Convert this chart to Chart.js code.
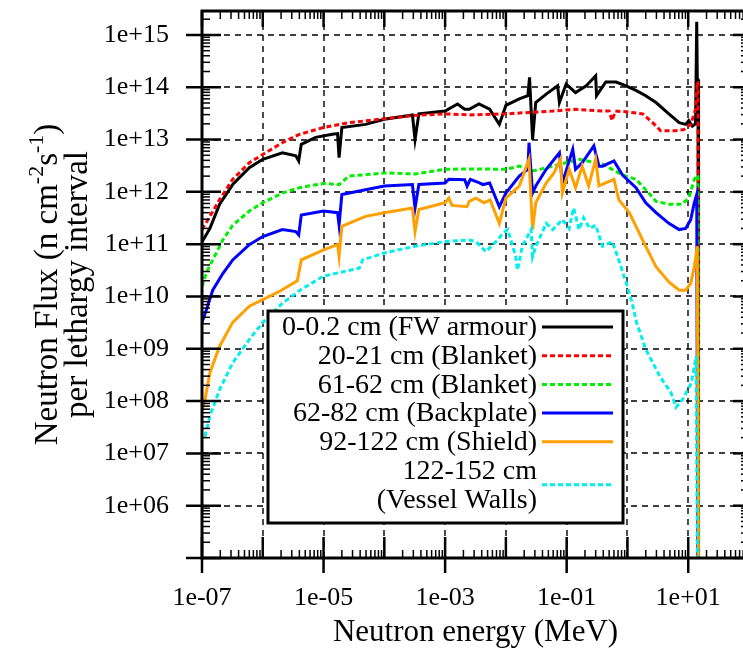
<!DOCTYPE html>
<html>
<head>
<meta charset="utf-8">
<script src="https://cdn.jsdelivr.net/npm/chart.js@4/dist/chart.umd.min.js"></script>
<style>
  html, body { margin: 0; padding: 0; background: #fff; overflow: hidden; }
  #wrap { width: 760px; height: 652px; }
</style>
</head>
<body>
<div id="wrap"><canvas id="fluxChart" width="760" height="652"></canvas></div>
<script>
// neutron energy (MeV) and flux per lethargy for each radial zone
const fwArmourEnergy = [1e-7, 1.35e-7, 1.95e-7, 3.2e-7, 6e-7, 1e-6, 2.1e-6, 3.5e-6, 3.9e-6, 4.3e-6, 7.4e-6, 1.4e-5, 1.7e-5, 1.8e-5, 2.0e-5, 4.9e-5, 1e-4, 2.9e-4, 3.2e-4, 3.7e-4, 1e-3, 1.6e-3, 2.1e-3, 2.5e-3, 3.6e-3, 5.4e-3, 7.8e-3, 1e-2, 1.66e-2, 2.3e-2, 2.45e-2, 2.75e-2, 3.1e-2, 4.6e-2, 7.1e-2, 7.6e-2, 9.8e-2, 0.14, 0.21, 0.3, 0.31, 0.44, 0.65, 0.93, 1.38, 2.0, 2.95, 4.8, 7.1, 9.1, 10.2, 11.7, 13.2, 13.8, 14.1, 14.5, 14.8];
const fwArmourFlux = [1.1e11, 2.0e11, 5.8e11, 1.38e12, 2.9e12, 4.2e12, 5.6e12, 4.9e12, 3.9e12, 8.1e12, 1.1e13, 1.26e13, 1.3e13, 4.5e12, 1.7e13, 1.95e13, 2.45e13, 2.95e13, 1.0e13, 3.1e13, 3.5e13, 4.8e13, 3.8e13, 3.8e13, 4.8e13, 3.8e13, 1.95e13, 4.5e13, 6.0e13, 6.9e13, 1.55e14, 1.0e13, 5.1e13, 7.4e13, 1.07e14, 5.1e13, 1.15e14, 7.9e13, 1.07e14, 1.66e14, 6.9e13, 1.26e14, 1.26e14, 1.07e14, 8.7e13, 6.9e13, 5.1e13, 3.1e13, 2.1e13, 1.95e13, 2.3e13, 1.8e13, 2.0e13, 1.78e15, 1.48e14, 1.4e14, 1e3];

const blanket20Energy = [1e-7, 1.35e-7, 1.95e-7, 3.2e-7, 6e-7, 1e-6, 2.1e-6, 4e-6, 1e-5, 2.6e-5, 1e-4, 3.2e-4, 1e-3, 2.5e-3, 1e-2, 2.4e-2, 5.9e-2, 0.14, 0.39, 0.5, 0.56, 0.63, 0.93, 1.78, 2.6, 3.5, 6.2, 8.5, 11, 13.2, 14.1, 14.5, 14.8];
const blanket20Flux = [1.9e11, 3.4e11, 7.1e11, 1.74e12, 3.6e12, 5.2e12, 8.7e12, 1.26e13, 1.7e13, 2.1e13, 2.5e13, 2.9e13, 3.1e13, 2.95e13, 3.1e13, 3.3e13, 3.5e13, 3.8e13, 3.5e13, 3.5e13, 2.3e13, 3.5e13, 3.4e13, 3.1e13, 2.1e13, 1.48e13, 1.48e13, 1.55e13, 1.95e13, 3.8e13, 1.29e14, 1.2e14, 1e3];

const blanket61Energy = [1e-7, 1.2e-7, 1.5e-7, 2.2e-7, 3.2e-7, 6e-7, 1e-6, 2.1e-6, 4e-6, 1e-5, 1.8e-5, 2.6e-5, 1e-4, 3.2e-4, 1e-3, 2.5e-3, 1e-2, 1.66e-2, 2.75e-2, 5.9e-2, 0.16, 0.39, 0.83, 1.38, 2.0, 2.95, 4.8, 7.9, 10.2, 12.6, 14.1, 14.5, 14.8];
const blanket61Flux = [1.55e10, 3.0e10, 5.0e10, 1.2e11, 2.3e11, 4.3e11, 6.2e11, 9.5e11, 1.2e12, 1.45e12, 1.38e12, 2.0e12, 2.3e12, 2.2e12, 2.7e12, 2.75e12, 2.7e12, 3.1e12, 2.5e12, 3.1e12, 4.2e12, 3.4e12, 2.1e12, 1.74e12, 1.1e12, 6.6e11, 5.8e11, 5.8e11, 7.6e11, 1.74e12, 2.1e12, 2.0e12, 1e3];

const backplateEnergy = [1e-7, 1.2e-7, 1.5e-7, 2.2e-7, 3.2e-7, 6e-7, 1e-6, 2.1e-6, 3.5e-6, 3.9e-6, 4.3e-6, 1e-5, 1.7e-5, 1.8e-5, 2.0e-5, 4.9e-5, 1e-4, 2.9e-4, 3.2e-4, 3.7e-4, 1e-3, 1.15e-3, 2.1e-3, 2.3e-3, 2.6e-3, 3.6e-3, 4.2e-3, 5.4e-3, 7.8e-3, 1e-2, 1.66e-2, 2.3e-2, 2.4e-2, 2.75e-2, 3.1e-2, 4.6e-2, 7.6e-2, 8.5e-2, 0.126, 0.14, 0.18, 0.28, 0.34, 0.39, 0.6, 0.83, 1.38, 2.0, 2.95, 4.8, 7.1, 9.1, 11, 12.6, 13.8, 14.5];
const backplateFlux = [3.2e9, 5.9e9, 1.32e10, 2.75e10, 5.0e10, 9.8e10, 1.4e11, 1.9e11, 1.74e11, 1.5e11, 3.6e11, 4.3e11, 4.0e11, 2.3e11, 8.9e11, 1.1e12, 1.29e12, 1.38e12, 4.9e11, 1.38e12, 1.48e12, 1.74e12, 1.7e12, 1.29e12, 1.74e12, 1.5e12, 1.38e12, 1.48e12, 5.2e11, 9.5e11, 2.0e12, 2.7e12, 8.7e12, 9.5e11, 1.29e12, 2.7e12, 5.6e12, 1.48e12, 6.5e12, 2.7e12, 3.6e12, 7.6e12, 3.1e12, 3.1e12, 3.9e12, 2.1e12, 1.2e12, 6.2e11, 4.0e11, 2.5e11, 1.9e11, 2.0e11, 2.95e11, 6.2e11, 8.9e11, 1e3];

const shieldEnergy = [1e-7, 1.12e-7, 1.35e-7, 1.95e-7, 3.2e-7, 6e-7, 1e-6, 1.9e-6, 3.7e-6, 4.3e-6, 1e-5, 1.7e-5, 1.8e-5, 2.0e-5, 4.9e-5, 1e-4, 2.9e-4, 3.2e-4, 3.7e-4, 1e-3, 1.15e-3, 1.3e-3, 2.3e-3, 2.5e-3, 3.2e-3, 4.4e-3, 5.5e-3, 7.8e-3, 1e-2, 1.66e-2, 2.4e-2, 2.75e-2, 3.1e-2, 4.6e-2, 6.2e-2, 7.9e-2, 8.5e-2, 0.11, 0.14, 0.18, 0.23, 0.3, 0.34, 0.44, 0.6, 0.72, 1.07, 1.38, 2.0, 2.95, 4.8, 7.1, 9.1, 11, 12.6, 14.1, 14.8];
const shieldFlux = [6.5e7, 1.07e8, 3.5e8, 1.12e9, 3.2e9, 6.5e9, 8.7e9, 1.26e10, 2.0e10, 5.0e10, 7.8e10, 9.8e10, 5.8e10, 2.2e11, 3.4e11, 4.0e11, 4.9e11, 1.74e11, 4.6e11, 6.2e11, 7.6e11, 5.5e11, 5.2e11, 6.6e11, 7.6e11, 6.2e11, 7.0e11, 2.5e11, 7.6e11, 1.29e12, 4.2e12, 1.9e11, 6.2e11, 1.48e12, 2.3e12, 4.2e12, 9.5e11, 2.7e12, 1.2e12, 3.1e12, 1.3e12, 4.2e12, 1.3e12, 1.48e12, 1.74e12, 7.1e11, 4.0e11, 2.2e11, 9.1e10, 3.7e10, 1.9e10, 1.32e10, 1.32e10, 1.78e10, 3.7e10, 9.1e10, 1e3];

const vesselEnergy = [1.12e-7, 1.35e-7, 1.95e-7, 3.2e-7, 6e-7, 1e-6, 2.1e-6, 4.1e-6, 1e-5, 3.9e-5, 4.4e-5, 1e-4, 3.2e-4, 1e-3, 2.5e-3, 3.2e-3, 4.7e-3, 6.9e-3, 8.9e-3, 1.07e-2, 1.45e-2, 1.55e-2, 1.86e-2, 2.6e-2, 2.75e-2, 3.1e-2, 4.6e-2, 5.9e-2, 8.5e-2, 0.11, 0.13, 0.16, 0.19, 0.24, 0.3, 0.39, 0.56, 0.72, 0.93, 1.2, 1.41, 2.0, 3.4, 5.2, 6.3, 8.1, 11.2, 13.5, 14.5];
const vesselFlux = [2.1e7, 5.2e7, 1.66e8, 5.4e8, 1.5e9, 3.2e9, 7.4e9, 1.32e10, 2.45e10, 3.5e10, 5.0e10, 6.8e10, 9.1e10, 1.12e11, 1.2e11, 1.12e11, 7.2e10, 1.12e11, 1.6e11, 1.9e11, 5.8e10, 3.2e10, 9.1e10, 1.9e11, 5.8e10, 9.0e10, 2.5e11, 1.9e11, 2.95e11, 2.0e11, 4.9e11, 1.9e11, 3.2e11, 2.0e11, 2.3e11, 9.1e10, 1.12e11, 5.0e10, 2.0e10, 7.4e9, 3.2e9, 9.8e8, 3.0e8, 1.45e8, 7.6e7, 1.07e8, 2.2e8, 7.2e8, 1e3];

const seriesLabels = [
  "0-0.2 cm (FW armour)",
  "20-21 cm (Blanket)",
  "61-62 cm (Blanket)",
  "62-82 cm (Backplate)",
  "92-122 cm (Shield)",
  "122-152 cm\n(Vessel Walls)",
];

const xTickValues = [1e-7, 1e-5, 1e-3, 1e-1, 1e1];
const yTickValues = [1e6, 1e7, 1e8, 1e9, 1e10, 1e11, 1e12, 1e13, 1e14, 1e15];

const serif = "'Liberation Serif', 'DejaVu Serif', serif";

function toPoints(energy, flux) {
  return energy.map((e, i) => ({ x: e, y: flux[i] }));
}

function sciLabel(v) {
  const e = Math.round(Math.log10(v));
  return "1e" + (e < 0 ? "-" : "+") + String(Math.abs(e)).padStart(2, "0");
}

const seriesStyles = [
  { color: "#000000", dash: [] },
  { color: "#ff0000", dash: [5, 3] },
  { color: "#00ee00", dash: [5, 3] },
  { color: "#0000ff", dash: [] },
  { color: "#ffa000", dash: [] },
  { color: "#00eeee", dash: [5, 3] },
];

const seriesData = [
  toPoints(fwArmourEnergy, fwArmourFlux),
  toPoints(blanket20Energy, blanket20Flux),
  toPoints(blanket61Energy, blanket61Flux),
  toPoints(backplateEnergy, backplateFlux),
  toPoints(shieldEnergy, shieldFlux),
  toPoints(vesselEnergy, vesselFlux),
];

function line(ctx, x1, y1, x2, y2) {
  ctx.beginPath();
  ctx.moveTo(x1, y1);
  ctx.lineTo(x2, y2);
  ctx.stroke();
}

const gnuplotFrame = {
  id: "gnuplotFrame",
  beforeDatasetsDraw(chart) {
    const { ctx, chartArea: a, scales: { x, y } } = chart;
    ctx.save();
    ctx.strokeStyle = "#000";
    ctx.lineWidth = 1.4;
    ctx.setLineDash([6, 5]);
    for (let p = -6; p <= 1; p++) {
      const px = Math.round(x.getPixelForValue(Math.pow(10, p)));
      line(ctx, px, a.bottom, px, a.top);
    }
    for (let p = 6; p <= 15; p++) {
      const py = Math.round(y.getPixelForValue(Math.pow(10, p)));
      line(ctx, a.left, py, a.right, py);
    }
    ctx.restore();
  },
  afterDraw(chart) {
    const { ctx, chartArea: a, scales: { x, y } } = chart;
    ctx.save();
    ctx.strokeStyle = "#000";
    ctx.setLineDash([]);

    // minor ticks
    ctx.lineWidth = 1.5;
    for (let p = -7; p < 2; p++) {
      for (let m = 2; m <= 9; m++) {
        const px = x.getPixelForValue(m * Math.pow(10, p));
        line(ctx, px, a.bottom, px, a.bottom - 8);
        line(ctx, px, a.top, px, a.top + 8);
      }
    }
    for (let p = 5; p < 16; p++) {
      for (let m = 2; m <= 9; m++) {
        const v = m * Math.pow(10, p);
        if (v > y.max) break;
        const py = y.getPixelForValue(v);
        line(ctx, a.left, py, a.left + 8, py);
        line(ctx, a.right, py, a.right - 8, py);
      }
    }

    // major ticks
    ctx.lineWidth = 2.5;
    for (let p = -7; p <= 2; p++) {
      const v = Math.pow(10, p);
      const px = x.getPixelForValue(v);
      const labelled = xTickValues.some((t) => Math.abs(Math.log10(t) - p) < 1e-6);
      line(ctx, px, a.bottom + (labelled ? 15 : 0), px, a.bottom - 21);
      line(ctx, px, a.top, px, a.top + 16);
    }
    for (let p = 5; p <= 15; p++) {
      const py = y.getPixelForValue(Math.pow(10, p));
      line(ctx, a.left - 16, py, a.left + 19, py);
      line(ctx, a.right, py, a.right - 16, py);
    }

    // border
    ctx.lineWidth = 3;
    ctx.strokeRect(a.left, a.top, a.right - a.left, a.bottom - a.top);

    // legend box
    const box = { left: 268, top: 311, right: 623, bottom: 523 };
    ctx.fillStyle = "#fff";
    ctx.fillRect(box.left, box.top, box.right - box.left, box.bottom - box.top);
    ctx.lineWidth = 3;
    ctx.strokeRect(box.left, box.top, box.right - box.left, box.bottom - box.top);

    ctx.font = "28px " + serif;
    ctx.fillStyle = "#000";
    ctx.textAlign = "right";
    ctx.textBaseline = "middle";
    const rowH = 28.7;
    let row = 0;
    chart.data.datasets.forEach((ds) => {
      const parts = ds.label.split("\n");
      const firstY = 328 + row * rowH;
      parts.forEach((t, k) => ctx.fillText(t, 537, firstY + k * rowH));
      const sy = firstY + (parts.length - 1) * rowH / 2 - 1;
      ctx.save();
      ctx.strokeStyle = ds.borderColor;
      ctx.lineWidth = ds.borderWidth;
      ctx.setLineDash(ds.borderDash || []);
      line(ctx, 542, sy, 613, sy);
      ctx.restore();
      row += parts.length;
    });

    // x title
    ctx.textAlign = "center";
    ctx.font = "31px " + serif;
    ctx.fillText("Neutron energy (MeV)", (a.left + a.right) / 2, 633);

    // y title with superscripts
    const cy = (a.top + a.bottom) / 2;
    ctx.translate(0, cy);
    ctx.rotate(-Math.PI / 2);
    ctx.textAlign = "left";
    ctx.textBaseline = "alphabetic";
    const big = "33px " + serif;
    const small = "22px " + serif;
    const pieces = [
      ["Neutron Flux (n cm", big, 0],
      ["-2", small, -14],
      ["s", big, 0],
      ["-1", small, -14],
      [")", big, 0],
    ];
    let total = 0;
    pieces.forEach((p) => { ctx.font = p[1]; total += ctx.measureText(p[0]).width; });
    let u = -total / 2;
    const base1 = 57;
    pieces.forEach((p) => {
      ctx.font = p[1];
      ctx.fillText(p[0], u, base1 + p[2]);
      u += ctx.measureText(p[0]).width;
    });
    ctx.font = big;
    ctx.textAlign = "center";
    ctx.fillText("per lethargy interval", 0, 87);
    ctx.restore();
  },
};

const ctx = document.getElementById("fluxChart").getContext("2d");

new Chart(ctx, {
  type: "line",
  data: {
    datasets: seriesLabels.map((label, i) => ({
      label: label,
      data: seriesData[i],
      borderColor: seriesStyles[i].color,
      borderDash: seriesStyles[i].dash,
      borderWidth: 3,
      pointRadius: 0,
      tension: 0,
      fill: false,
      order: seriesLabels.length - i,
    })),
  },
  options: {
    responsive: false,
    animation: false,
    layout: { padding: { top: 11, right: 11, left: 0, bottom: 0 } },
    plugins: {
      legend: { display: false },
      tooltip: { enabled: false },
    },
    scales: {
      x: {
        type: "logarithmic",
        min: 1e-7,
        max: 1e2,
        bounds: "data",
        grid: { display: false, drawTicks: false },
        border: { display: false },
        afterBuildTicks: (s) => { s.ticks = xTickValues.map((v) => ({ value: v })); },
        afterFit: (s) => {
          s.height = 94;
          s.paddingLeft = 0;
          s.paddingRight = 0;
        },
        ticks: {
          autoSkip: false,
          maxRotation: 0,
          padding: 25,
          color: "#000",
          font: { family: serif, size: 26 },
          callback: (v) => sciLabel(v),
        },
      },
      y: {
        type: "logarithmic",
        min: 1e5,
        max: 2.87e15,
        bounds: "data",
        grid: { display: false, drawTicks: false },
        border: { display: false },
        afterBuildTicks: (s) => { s.ticks = yTickValues.map((v) => ({ value: v })); },
        afterFit: (s) => {
          s.width = 202;
          s.paddingTop = 0;
          s.paddingBottom = 0;
        },
        ticks: {
          autoSkip: false,
          padding: 33,
          color: "#000",
          font: { family: serif, size: 26 },
          callback: (v) => sciLabel(v),
        },
      },
    },
  },
  plugins: [gnuplotFrame],
});
</script>
</body>
</html>
